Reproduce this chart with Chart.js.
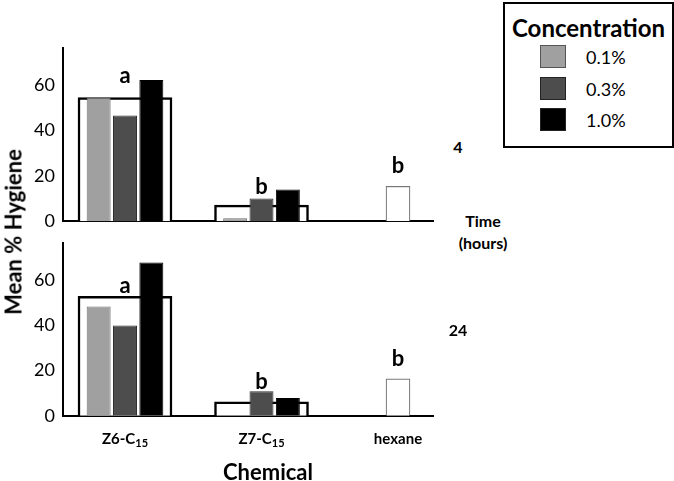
<!DOCTYPE html>
<html>
<head>
<meta charset="utf-8">
<script src="https://cdn.jsdelivr.net/npm/chart.js@4.4.0/dist/chart.umd.min.js"></script>
<style>
  body { margin: 0; background: #fff; font-family: Lato, sans-serif; }
  #wrap { position: relative; width: 674px; height: 481px; overflow: hidden; }
  canvas { position: absolute; left: 0; }
  #c1 { top: 0; }
  #c2 { top: 224px; }
  .lbl { position: absolute; font-weight: bold; color: #000; transform: translate(-50%, -50%); white-space: nowrap; }
  #ytitle { left: 13px; top: 232px; font-size: 22px; transform: translate(-50%, -50%) rotate(-90deg); }
  #xtitle { left: 268px; top: 471px; font-size: 22px; }
  .time { font-size: 16px; }
  #legend { position: absolute; left: 503px; top: 2px; width: 167px; height: 142px; border: 2px solid #000; }
  #legend .ttl { position: absolute; left: 0; width: 100%; top: 9px; text-align: center; font-weight: bold; font-size: 24px; }
  #legend .sw { position: absolute; left: 35px; width: 26px; height: 23px; box-sizing: border-box; border: 1px solid #333; }
  #legend .tx { position: absolute; left: 81px; font-size: 18px; transform: translateY(-50%); }
</style>
</head>
<body>
<div id="wrap">
  <canvas id="c1" width="440" height="240"></canvas>
  <canvas id="c2" width="440" height="257"></canvas>
  <div class="lbl" id="ytitle">Mean % Hygiene</div>
  <div class="lbl" id="xtitle">Chemical</div>
  <div class="lbl time" style="left:458px;top:146px">4</div>
  <div class="lbl time" style="left:483px;top:220px">Time</div>
  <div class="lbl time" style="left:483px;top:242px">(hours)</div>
  <div class="lbl time" style="left:458px;top:329px">24</div>
  <div id="legend"><div class="ttl">Concentration</div></div>
</div>
<script>
// categories
const chemBase = ["Z6-C", "Z7-C", "hexane"];
const chemSub = ["15", "15", ""];
const concentrations = ["0.1%", "0.3%", "1.0%"];
const yTicks = [0, 20, 40, 60];
const yMax = 76.5;

// 4 hours
const h4Low = [54.6, 1.3, null];
const h4Mid = [46.7, 10.0, null];
const h4High = [62.4, 14.0, null];
const h4Mean = [54.6, 7.1, null];
const h4Hexane = [null, null, 15.4];
const h4Letters = ["a", "b", "b"];
const h4LetterAt = [61, 12, 21.5];

// 24 hours
const h24Low = [48.3, 0, null];
const h24Mid = [39.9, 10.8, null];
const h24High = [67.8, 7.8, null];
const h24Mean = [52.8, 6.1, null];
const h24Hexane = [null, null, 16.3];
const h24Letters = ["a", "b", "b"];
const h24LetterAt = [54.5, 12, 22];

const fills = ["#a0a0a0", "#4d4d4d", "#000000"];
const edges = ["#6e6e6e", "#2e2e2e", "#000000"];

// legend
const legend = document.getElementById("legend");
concentrations.forEach((c, i) => {
  const sw = document.createElement("div");
  sw.className = "sw";
  sw.style.top = (41 + i * 31.5) + "px";
  sw.style.background = fills[i];
  sw.style.borderColor = i == 0 ? "#555" : "#222";
  legend.appendChild(sw);
  const tx = document.createElement("div");
  tx.className = "tx";
  tx.style.top = (53 + i * 31.5) + "px";
  tx.textContent = c;
  legend.appendChild(tx);
});

const pts = arr => arr.map((v, i) => ({ x: i, y: v }));

const letterPlugin = {
  id: "letters",
  afterDatasetsDraw(chart, args, opts) {
    const { ctx, scales: { x, y } } = chart;
    ctx.save();
    ctx.font = "bold 22px Lato";
    ctx.fillStyle = "#000";
    ctx.textAlign = "center";
    ctx.textBaseline = "alphabetic";
    opts.letters.forEach((t, i) => {
      ctx.fillText(t, x.getPixelForValue(i), y.getPixelForValue(opts.at[i]));
    });
    if (opts.names) {
      // x tick labels with subscripts
      const base = chart.chartArea.bottom + 28;
      chemBase.forEach((name, i) => {
        ctx.font = "bold 15px Lato";
        const w1 = ctx.measureText(name).width;
        ctx.font = "bold 11px Lato";
        const w2 = ctx.measureText(chemSub[i]).width;
        let left = x.getPixelForValue(i) - (w1 + w2) / 2;
        ctx.textAlign = "left";
        ctx.font = "bold 15px Lato";
        ctx.fillText(name, left, base);
        ctx.font = "bold 11px Lato";
        ctx.fillText(chemSub[i], left + w1, base + 3);
      });
    }
    ctx.restore();
  }
};

function makePanel(id, low, mid, high, mean, hexane, letters, letterAt, padTop, padBottom, names) {
  const series = [low, mid, high];
  const datasets = series.map((s, i) => ({
    label: concentrations[i],
    data: pts(s),
    backgroundColor: fills[i],
    borderColor: edges[i],
    borderWidth: 1,
    categoryPercentage: 0.579,
    barPercentage: 0.91,
    order: 0
  }));
  // mean box behind the bars
  datasets.push({
    label: "mean",
    data: pts(mean),
    grouped: false,
    backgroundColor: "#fff",
    borderColor: "#000",
    borderWidth: 2.5,
    barThickness: 94,
    order: 5
  });
  datasets.push({
    label: "hexane",
    data: pts(hexane),
    grouped: false,
    backgroundColor: "#fff",
    borderColor: "#777",
    borderWidth: 1.2,
    barThickness: 24,
    order: 1
  });
  return new Chart(document.getElementById(id), {
    type: "bar",
    data: { datasets },
    options: {
      responsive: false,
      animation: false,
      devicePixelRatio: 1,
      layout: { padding: { top: padTop, bottom: padBottom, left: 0, right: 7 } },
      plugins: {
        legend: { display: false },
        tooltip: { enabled: false },
        letters: { letters, at: letterAt, names }
      },
      scales: {
        x: {
          type: "linear",
          offset: false,
          min: -0.4542,
          max: 2.2564,
          afterBuildTicks: s => { s.ticks = chemBase.map((c, i) => ({ value: i })); },
          afterFit: s => { s.height = 0; },
          ticks: { display: false },
          grid: { display: false, drawTicks: false },
          border: { display: true, color: "#000", width: 2 }
        },
        y: {
          min: 0,
          max: yMax,
          afterBuildTicks: s => { s.ticks = yTicks.map(v => ({ value: v })); },
          afterFit: s => { s.width = 63; },
          ticks: { color: "#000", padding: 8, font: { family: "Lato", size: 18 } },
          grid: { display: false, drawTicks: false },
          border: { display: true, color: "#000", width: 2 }
        }
      }
    },
    plugins: [letterPlugin]
  });
}

makePanel("c1", h4Low, h4Mid, h4High, h4Mean, h4Hexane, h4Letters, h4LetterAt, 48, 8.5, false);
makePanel("c2", h24Low, h24Mid, h24High, h24Mean, h24Hexane, h24Letters, h24LetterAt, 8, 65.3, true);
</script>
</body>
</html>
